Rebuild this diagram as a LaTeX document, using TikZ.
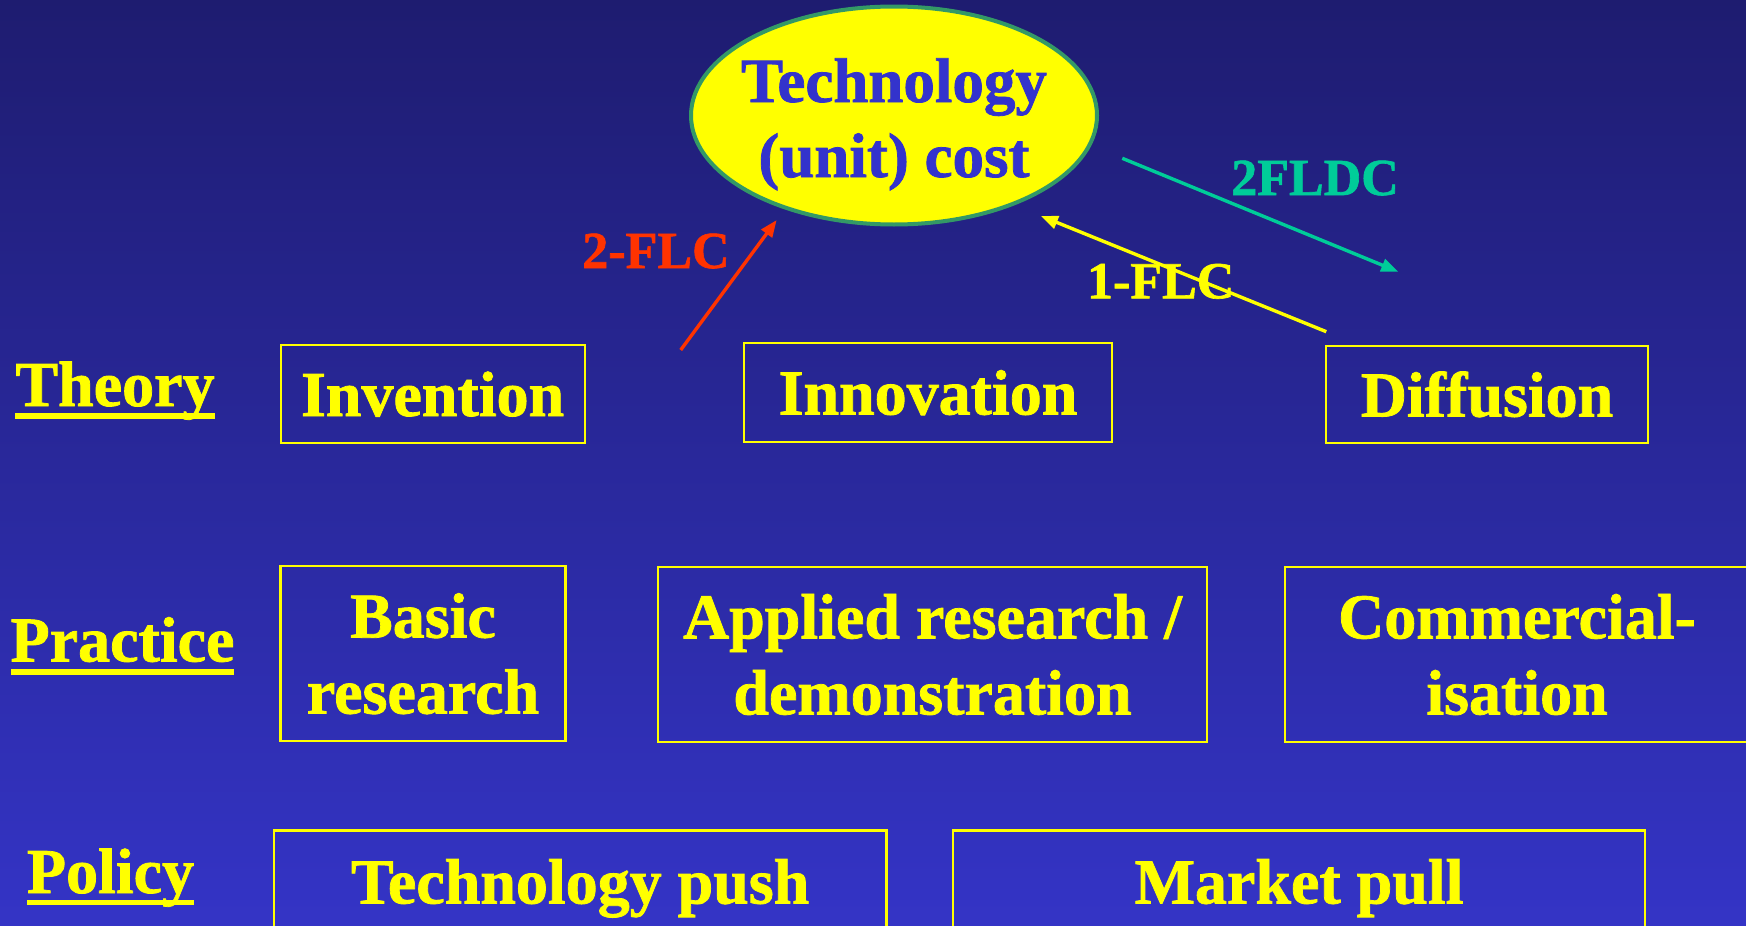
\documentclass[tikz,border=0pt]{standalone}
\usepackage{fontspec}
\setmainfont{Liberation Serif}[BoldFont={Liberation Serif Bold}, BoldFeatures={FakeBold=1.2}]
\usetikzlibrary{shapes.geometric,arrows.meta}
\definecolor{bgtop}{RGB}{30,28,112}
\definecolor{bgbot}{RGB}{52,52,198}
\definecolor{ylw}{RGB}{255,255,0}
\definecolor{ellblue}{RGB}{51,51,204}
\definecolor{ellgreen}{RGB}{51,153,102}
\definecolor{redarr}{RGB}{255,51,0}
\definecolor{tealarr}{RGB}{0,204,153}
\tikzset{
  bigfont/.style={font=\bfseries\fontsize{64}{76}\selectfont},
  lblfont/.style={font=\bfseries\fontsize{52}{60}\selectfont},
  onebox/.style={draw=ylw, line width=2.2pt, text=ylw, bigfont, inner sep=0pt,
                 text height=44pt, text depth=0pt, align=center},
  twobox/.style={draw=ylw, line width=2.2pt, text=ylw, bigfont, inner sep=0pt, align=center},
  rowlabel/.style={text=ylw, bigfont, inner sep=0pt, anchor=base},
  uline/.style={ylw, line width=5.3pt},
  arr/.style={line width=3.4pt, -{Triangle[length=17pt,width=13pt]}}
}
\begin{document}
\begin{tikzpicture}[x=1pt,y=-1pt]
\useasboundingbox (0,0) rectangle (1746,926);
\clip (0,0) rectangle (1746,926);
\shade[top color=bgtop, bottom color=bgbot] (0,0) rectangle (1746,926);

% ellipse
\node[ellipse, draw=ellgreen, line width=4pt, fill=ylw, minimum width=406pt,
      minimum height=218pt, inner sep=0pt] (cost) at (894,115.5) {};
\node[text=ellblue, font=\bfseries\fontsize{63}{75}\selectfont, align=center,
      anchor=base, inner sep=0pt] (costtxt) at (894,177) {Technology\\(unit) cost};

% row labels
\node[rowlabel] (theory) at (115,406) {Theory};
\node[rowlabel] (practice) at (122.5,661.5) {Practice};
\node[rowlabel] (policy) at (110.5,893) {Policy};
\draw[uline] (15,416) -- (215,416);
\draw[uline] (11,672) -- (234,672);
\draw[uline] (27,902.5) -- (194,902.5);

% theory row
\node[onebox, minimum width=304pt, minimum height=98pt] (invention) at (432.6,394) {Invention};
\node[onebox, minimum width=368.6pt, minimum height=99pt] (innovation) at (928,392.5) {Innovation};
\node[onebox, minimum width=322pt, minimum height=97pt] (diffusion) at (1487,394.5) {Diffusion};

% practice row
\node[twobox, minimum width=285pt, minimum height=175pt] (basic) at (423,653.7) {Basic\\research};
\node[twobox, minimum width=549pt, minimum height=175pt] (applied) at (932.5,654.5) {Applied research /\\demonstration};
\node[twobox, minimum width=464pt, minimum height=175pt] (commercial) at (1517,654.5) {Commercial-\\isation};

% policy row
\node[onebox, minimum width=612.4pt, minimum height=102pt] (push) at (580.2,881.5) {Technology push};
\node[onebox, minimum width=691.6pt, minimum height=102pt] (pull) at (1299,881.5) {Market pull};

% arrows
\coordinate (r0) at (680.7,350);
\coordinate (r1) at (776.7,220);
\coordinate (y0) at (1326.3,331.7);
\coordinate (y1) at (1041,216);
\coordinate (t0) at (1122.3,158.3);
\coordinate (t1) at (1398.2,271.7);
\draw[arr, redarr] (r0) -- (r1);
\draw[arr, ylw] (y0) -- (y1);
\draw[arr, tealarr] (t0) -- (t1);

\node[lblfont, text=redarr, anchor=base, inner sep=0pt] (flc2) at (656,268) {2-FLC};
\node[lblfont, text=ylw, anchor=base, inner sep=0pt] (flc1) at (1160.7,298.3) {1-FLC};
\node[lblfont, text=tealarr, anchor=base, inner sep=0pt] (fldc) at (1315,195) {2FLDC};
\end{tikzpicture}
\end{document}
